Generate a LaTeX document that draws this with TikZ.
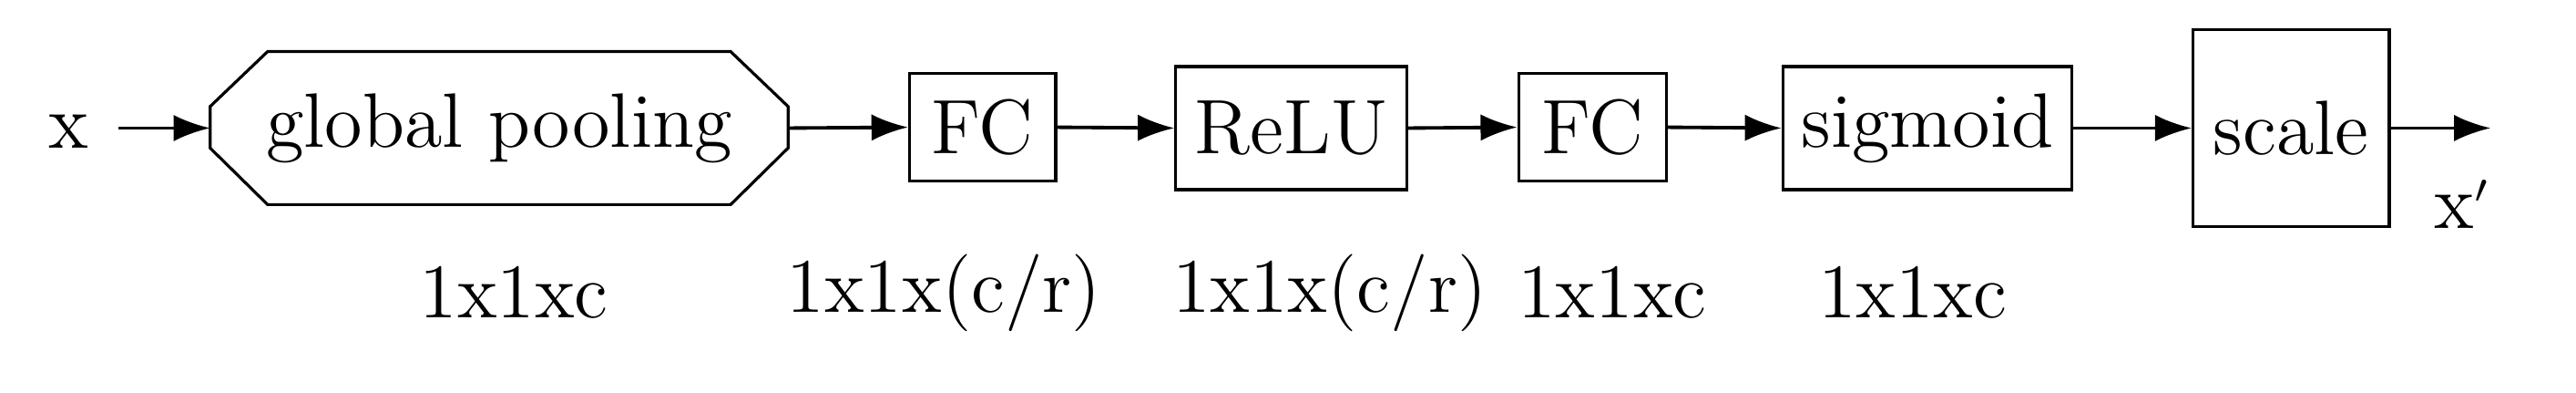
\documentclass[tikz,border=0pt]{standalone}
\usetikzlibrary{arrows.meta}
\begin{document}
\begin{tikzpicture}[x=0.0988cm,y=-0.1cm,
  txt/.style={font=\fontsize{13.2}{15}\selectfont, inner sep=0pt},
  box/.style={draw, line width=0.5pt},
  arr/.style={-{Latex[length=2.2mm,width=1.6mm]}, line width=0.6pt}]
\useasboundingbox (0,0) rectangle (156.9,23.6);
\node[txt] (x) at (4.2,7.9) {x};
\draw[box] (16.3,3.1) -- (44.5,3.1) -- (48,6.4) -- (48,8.9) -- (44.5,12.3) -- (16.3,12.3) -- (12.8,8.9) -- (12.8,6.4) -- cycle;
\node[txt] (gp) at (30.4,7.7) {global pooling};
\coordinate (gpl) at (12.8,7.7);
\coordinate (gpr) at (48,7.7);
\node[box, minimum width=8.8mm, minimum height=6.5mm, anchor=center] (fc1) at (59.85,7.65) {};
\node[txt] at (fc1) {FC};
\node[box, minimum width=13.9mm, minimum height=7.4mm] (relu) at (78.65,7.7) {};
\node[txt] at (relu) {ReLU};
\node[box, minimum width=8.9mm, minimum height=6.5mm] (fc2) at (97,7.65) {};
\node[txt] at (fc2) {FC};
\node[box, minimum width=17.4mm, minimum height=7.4mm] (sig) at (117.4,7.7) {};
\node[txt] at (sig) {sigmoid};
\node[box, minimum width=11.8mm, minimum height=11.8mm] (sc) at (139.55,7.7) {};
\node[txt] at (sc) {scale};
\coordinate (out) at (151.7,7.7);
\node[txt] (xp) at (150,12.3) {x$^{\scriptscriptstyle\prime}$};
\draw[arr] (7.2,7.7) -- (gpl);
\draw[arr] (gpr) -- (fc1.west);
\draw[arr] (fc1.east) -- (relu.west);
\draw[arr] (relu.east) -- (fc2.west);
\draw[arr] (fc2.east) -- (sig.west);
\draw[arr] (sig.east) -- (sc.west);
\draw[arr] (sc.east) -- (out);
\node[txt] (l1) at (31.3,17.6) {1x1xc};
\node[txt] (l2) at (57.5,17.6) {1x1x(c/r)};
\node[txt] (l3) at (81,17.6) {1x1x(c/r)};
\node[txt] (l4) at (98.2,17.6) {1x1xc};
\node[txt] (l5) at (116.5,17.6) {1x1xc};
\end{tikzpicture}
\end{document}
